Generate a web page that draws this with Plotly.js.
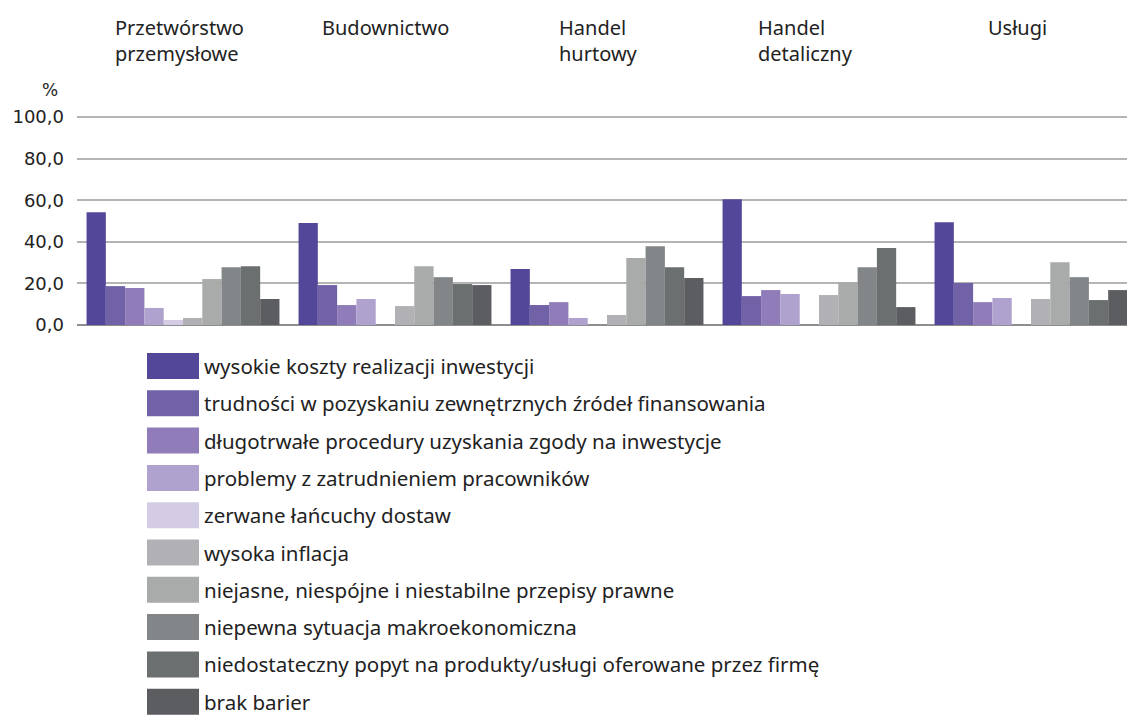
<!DOCTYPE html>
<html><head><meta charset="utf-8">
<script src="https://cdn.plot.ly/plotly-3.0.1.min.js"></script>
<style>html,body{margin:0;padding:0;overflow:hidden;background:#fff;}</style>
</head><body><div id="chart"></div>
<script>
const categories = ["Przetwórstwo przemysłowe","Budownictwo","Handel hurtowy","Handel detaliczny","Usługi"];
const categoryLabels = ["Przetwórstwo<br>przemysłowe","Budownictwo","Handel<br>hurtowy","Handel<br>detaliczny","Usługi"];
const seriesNames = [
  "wysokie koszty realizacji inwestycji",
  "trudności w pozyskaniu zewnętrznych źródeł finansowania",
  "długotrwałe procedury uzyskania zgody na inwestycje",
  "problemy z zatrudnieniem pracowników",
  "zerwane łańcuchy dostaw",
  "wysoka inflacja",
  "niejasne, niespójne i niestabilne przepisy prawne",
  "niepewna sytuacja makroekonomiczna",
  "niedostateczny popyt na produkty/usługi oferowane przez firmę",
  "brak barier"
];
const s1 = [54.2, 49.0, 26.9, 60.5, 49.4];
const s2 = [18.7, 19.2, 9.6, 13.9, 20.2];
const s3 = [17.8, 9.6, 11.0, 16.8, 11.0];
const s4 = [8.2, 12.5, 3.4, 14.9, 13.0];
const s5 = [2.4, 0, 0, 0, 0];
const s6 = [3.4, 9.1, 4.8, 14.4, 12.5];
const s7 = [22.1, 28.3, 32.2, 20.6, 30.2];
const s8 = [27.8, 23.0, 37.9, 27.8, 23.0];
const s9 = [28.3, 19.7, 27.8, 37.0, 12.0];
const s10 = [12.5, 19.2, 22.6, 8.6, 16.8];
const seriesValues = [s1,s2,s3,s4,s5,s6,s7,s8,s9,s10];
const tickVals = [0,20,40,60,80,100];
const tickLabels = ["0,0","20,0","40,0","60,0","80,0","100,0"];

const colors = ["#534799","#7161a7","#8f7cb8","#afa2cf","#d3cce4","#b1b0b4","#a8abaa","#828688","#6c6f70","#5c5d60"];
const labelShift = [-70,-75,-50,-63,-45];
const FONT = "Noto Sans, sans-serif";
const TICKFONT = "DejaVu Sans, sans-serif";
const TXT = "#222222";

const YMAX = 101;
const W = 1140, H = 717, ML = 77, MR = 3, MB = 392;
const pxPerUnit = 2.083;
const MT = Math.round(H - MB - YMAX * pxPerUnit);
const plotW = W - ML - MR, plotH = H - MT - MB;
const px2x = p => (p - ML) / plotW;
const py2y = p => (H - MB - p) / plotH;

const traces = seriesValues.map((v,i) => ({
  type: "bar", x: categories, y: v, name: seriesNames[i],
  marker: {color: colors[i], line: {width: 0}}, hoverinfo: "skip"
}));

const annotations = [];
const shapes = [];
categories.forEach((c,i) => annotations.push({
  x: c, xref: "x", y: py2y(12), yref: "paper",
  text: categoryLabels[i], showarrow: false,
  xanchor: "left", yanchor: "top", align: "left", xshift: labelShift[i],
  font: {family: FONT, size: 20, color: TXT}
}));
annotations.push({x: px2x(50), xref: "paper", y: py2y(90), yref: "paper", text: "%", showarrow: false,
  xanchor: "center", yanchor: "middle", font: {family: TICKFONT, size: 17, color: TXT}});

const legY0 = 366, legStep = 37.3;
seriesNames.forEach((n,i) => {
  const cy = legY0 + i*legStep;
  shapes.push({type: "rect", xref: "paper", yref: "paper",
    x0: px2x(147), x1: px2x(199), y0: py2y(cy-13), y1: py2y(cy+13),
    fillcolor: colors[i], line: {width: 0}});
  annotations.push({x: px2x(203), xref: "paper", y: py2y(cy), yref: "paper", text: n,
    showarrow: false, xanchor: "left", yanchor: "middle", borderpad: 0,
    font: {family: FONT, size: 20.5, color: TXT}});
});

const layout = {
  width: W, height: H,
  margin: {l: ML, r: MR, t: MT, b: MB, pad: 0},
  paper_bgcolor: "#fff", plot_bgcolor: "#fff",
  showlegend: false, barmode: "group", bargap: 0.09, bargroupgap: 0,
  font: {family: FONT, color: TXT},
  xaxis: {showticklabels: false, ticks: "", showgrid: false, zeroline: false, showline: false},
  yaxis: {range: [0,YMAX], tickvals: tickVals, ticktext: tickLabels, ticks: "",
    showgrid: true, gridcolor: "#b4b4b4", gridwidth: 2,
    zeroline: true, zerolinecolor: "#8e8e8e", zerolinewidth: 2.5, showline: false,
    tickfont: {family: TICKFONT, size: 18, color: TXT}, ticklabelstandoff: 12},
  annotations: annotations, shapes: shapes
};
Plotly.newPlot("chart", traces, layout, {staticPlot: true, displayModeBar: false});
</script></body></html>
